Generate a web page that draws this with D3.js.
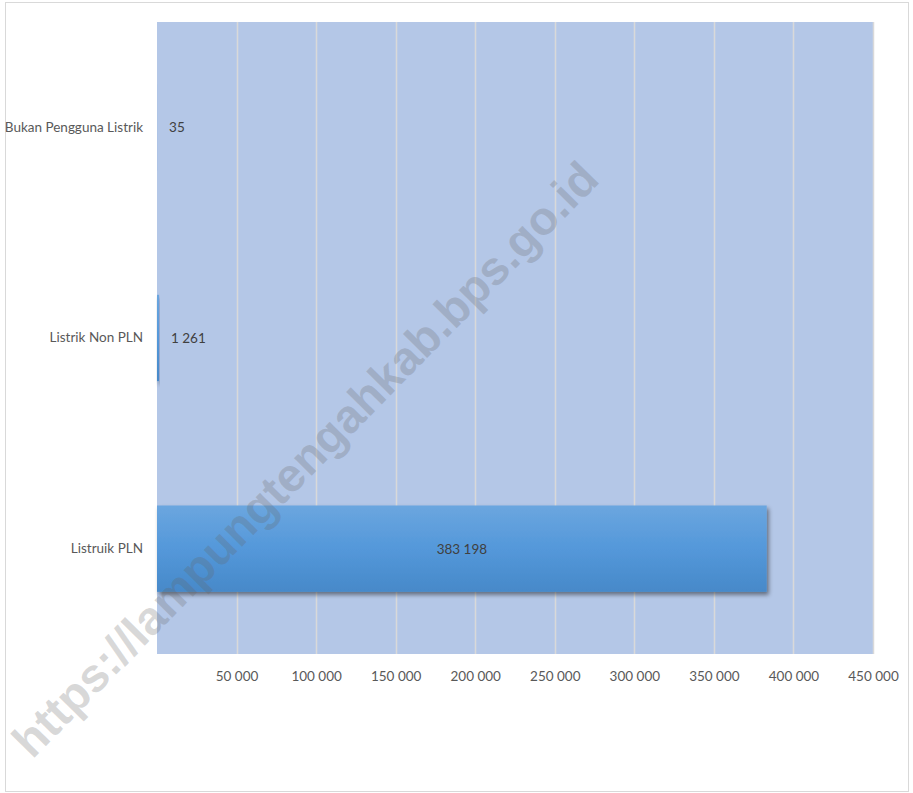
<!DOCTYPE html>
<html>
<head>
<meta charset="utf-8">
<script src="https://cdn.jsdelivr.net/npm/d3@7"></script>
<style>
  html, body { margin: 0; padding: 0; background: #ffffff; }
  svg { display: block; }
</style>
</head>
<body>
<script>
// ---- data ----
const categories = ["Bukan Pengguna Listrik", "Listrik Non PLN", "Listruik PLN"];
const values = [35, 1261, 383198];
const tickValues = [50000, 100000, 150000, 200000, 250000, 300000, 350000, 400000, 450000];
const xMax = 450000;
const watermark = "https://lampungtengahkab.bps.go.id";

// ---- layout ----
const W = 913, H = 793;
const plot = { left: 157, right: 873, top: 22, bottom: 654 };
const font = "Lato, 'Open Sans', sans-serif";
const fontSize = 13.5;
const textColor = "#595959";

const fmt = v => d3.format(",")(v).replace(/,/g, " ");

const svg = d3.select("body").append("svg").attr("width", W).attr("height", H);

const defs = svg.append("defs");
const grad = defs.append("linearGradient").attr("id", "barGrad")
  .attr("x1", 0).attr("y1", 0).attr("x2", 0).attr("y2", 1);
grad.append("stop").attr("offset", "0%").attr("stop-color", "#6ba6df");
grad.append("stop").attr("offset", "50%").attr("stop-color", "#5498da");
grad.append("stop").attr("offset", "100%").attr("stop-color", "#4789c9");
const shadow = defs.append("filter").attr("id", "shadow")
  .attr("x", "-10%").attr("y", "-10%").attr("width", "130%").attr("height", "140%");
shadow.append("feDropShadow").attr("dx", 2).attr("dy", 3).attr("stdDeviation", 2)
  .attr("flood-color", "#000").attr("flood-opacity", 0.45);

// outer frame
svg.append("rect").attr("x", 5.5).attr("y", 2.5).attr("width", 903).attr("height", 789)
  .attr("fill", "#ffffff").attr("stroke", "#d9d9d9").attr("stroke-width", 1);

const x = d3.scaleLinear().domain([0, xMax]).range([plot.left, plot.right]);
const yb = d3.scaleBand().domain(categories).range([plot.top, plot.bottom])
  .paddingInner(0.59).paddingOuter(0.295);

// plot background
svg.append("rect").attr("x", plot.left).attr("y", plot.top)
  .attr("width", plot.right - plot.left).attr("height", plot.bottom - plot.top)
  .attr("fill", "#b4c7e7");

// gridlines
svg.append("g").selectAll("line").data(tickValues).join("line")
  .attr("x1", d => Math.round(x(d)) + 0.5).attr("x2", d => Math.round(x(d)) + 0.5)
  .attr("y1", plot.top).attr("y2", plot.bottom)
  .attr("stroke", "#d9d9d9").attr("stroke-width", 1.5);

// x axis labels
const xAxis = d3.axisBottom(x).tickValues(tickValues).tickFormat(fmt).tickSize(0).tickPadding(17);
const gx = svg.append("g").attr("transform", `translate(0,${plot.bottom})`).call(xAxis);
gx.select(".domain").remove();
gx.selectAll("text").attr("font-family", font).attr("font-size", fontSize).attr("fill", textColor);

// y axis labels
const yAxis = d3.axisLeft(yb).tickSize(0).tickPadding(14);
const gy = svg.append("g").attr("transform", `translate(${plot.left},0)`).call(yAxis);
gy.select(".domain").remove();
gy.selectAll("text").attr("font-family", font).attr("font-size", fontSize).attr("fill", textColor);

// bars
const data = categories.map((c, i) => ({ c, v: values[i] }));
svg.append("g").selectAll("rect").data(data).join("rect")
  .attr("x", plot.left)
  .attr("y", d => yb(d.c))
  .attr("width", d => x(d.v) - x(0))
  .attr("height", yb.bandwidth())
  .attr("fill", "url(#barGrad)")
  .attr("filter", d => (x(d.v) - x(0)) >= 1 ? "url(#shadow)" : null);

// data labels
svg.append("g").selectAll("text").data(data).join("text")
  .attr("x", d => (x(d.v) - x(0)) > 80 ? (x(0) + x(d.v)) / 2 : x(d.v) + 12)
  .attr("y", d => yb(d.c) + yb.bandwidth() / 2)
  .attr("text-anchor", d => (x(d.v) - x(0)) > 80 ? "middle" : "start")
  .attr("dominant-baseline", "central")
  .attr("font-family", font).attr("font-size", fontSize).attr("fill", "#404040")
  .text(d => fmt(d.v));

// watermark
const wm = svg.append("text")
  .attr("transform", "translate(305,459) rotate(-45.5)")
  .attr("text-anchor", "middle").attr("dominant-baseline", "central")
  .attr("font-family", "'Liberation Sans', Arial, sans-serif").attr("font-weight", "bold")
  .attr("font-size", 44)
  .attr("fill", "#646464").attr("fill-opacity", 0.25)
  .text(watermark);
const len = wm.node().getComputedTextLength();
wm.attr("font-size", 44 * 812 / len);
</script>
</body>
</html>
